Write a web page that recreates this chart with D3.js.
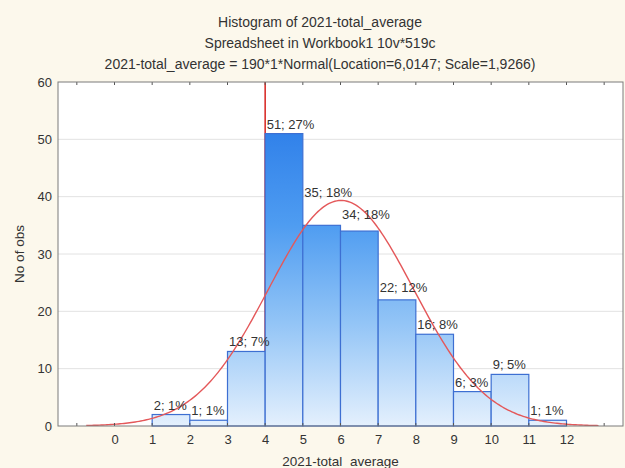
<!DOCTYPE html>
<html>
<head>
<meta charset="utf-8">
<script src="https://cdn.jsdelivr.net/npm/d3@7"></script>
<style>
  body { margin: 0; background: #fcf8ec; }
  svg { display: block; font-family: "Liberation Sans", Arial, sans-serif; }
</style>
</head>
<body>
<div id="chart"></div>
<script>
// Histogram bins (lower edges) and counts
var binStarts = [1, 2, 3, 4, 5, 6, 7, 8, 9, 10, 11];
var counts = [2, 1, 13, 51, 35, 34, 22, 16, 6, 9, 1];
var percents = ["1%", "1%", "7%", "27%", "18%", "18%", "12%", "8%", "3%", "5%", "1%"];
var xTickLabels = [0, 1, 2, 3, 4, 5, 6, 7, 8, 9, 10, 11, 12];
var yTickLabels = [0, 10, 20, 30, 40, 50, 60];

// fitted normal, from the title
var fitN = 190, fitLoc = 6.0147, fitScale = 1.9266;
var markerX = 4;

var svgWidth = 625;
var svgHeight = 468;
var margin = { top: 82, right: 2, bottom: 42, left: 58 };
var chartWidth = svgWidth - margin.left - margin.right;
var chartHeight = svgHeight - margin.top - margin.bottom;

var svg = d3.select("#chart")
    .append("svg")
    .attr("width", svgWidth)
    .attr("height", svgHeight);

svg.append("rect")
    .attr("width", svgWidth)
    .attr("height", svgHeight)
    .attr("fill", "#fcf8ec");

// Title lines
var titles = [
    "Histogram of 2021-total_average",
    "Spreadsheet in Workbook1 10v*519c",
    "2021-total_average = 190*1*Normal(Location=6,0147; Scale=1,9266)"
];
svg.selectAll("text.title")
    .data(titles)
    .enter().append("text")
    .attr("class", "title")
    .attr("x", 320)
    .attr("y", (d, i) => 27 + i * 21)
    .attr("text-anchor", "middle")
    .attr("font-size", 14)
    .attr("fill", "#333")
    .text(d => d);

var chartGroup = svg.append("g")
    .attr("transform", `translate(${margin.left}, ${margin.top})`);

var x = d3.scaleLinear()
    .domain([-1.5, 13.5])
    .range([0, chartWidth]);

var y = d3.scaleLinear()
    .domain([0, 60])
    .range([chartHeight, 0]);

var defs = svg.append("defs");
var grad = defs.append("linearGradient")
    .attr("id", "barGrad")
    .attr("gradientUnits", "userSpaceOnUse")
    .attr("x1", 0).attr("x2", 0)
    .attr("y1", y(0)).attr("y2", y(55));
grad.append("stop").attr("offset", "0%").attr("stop-color", "#e4f0fd");
grad.append("stop").attr("offset", "33%").attr("stop-color", "#92c4f6");
grad.append("stop").attr("offset", "64%").attr("stop-color", "#4e9cf1");
grad.append("stop").attr("offset", "100%").attr("stop-color", "#2a7be8");

defs.append("clipPath").attr("id", "plotClip")
    .append("rect")
    .attr("width", chartWidth)
    .attr("height", chartHeight);

// plot background
chartGroup.append("rect")
    .attr("width", chartWidth)
    .attr("height", chartHeight)
    .attr("fill", "#fff");

// horizontal grid
chartGroup.selectAll("line.grid")
    .data(yTickLabels.slice(1, -1))
    .enter().append("line")
    .attr("class", "grid")
    .attr("x1", 0)
    .attr("x2", chartWidth)
    .attr("y1", d => y(d))
    .attr("y2", d => y(d))
    .attr("stroke", "#e2e2e2")
    .attr("stroke-width", 1);

// marker line
chartGroup.append("line")
    .attr("x1", x(markerX)).attr("x2", x(markerX))
    .attr("y1", 0).attr("y2", chartHeight)
    .attr("stroke", "#d9302c")
    .attr("stroke-width", 1.6);

// bars
chartGroup.selectAll("rect.bar")
    .data(counts)
    .enter().append("rect")
    .attr("class", "bar")
    .attr("x", (d, i) => x(binStarts[i]))
    .attr("width", (d, i) => x(binStarts[i] + 1) - x(binStarts[i]))
    .attr("y", d => y(d))
    .attr("height", d => y(0) - y(d))
    .attr("fill", "url(#barGrad)")
    .attr("stroke", "#3d6fd2")
    .attr("stroke-width", 1.2);

// normal fit curve
var curveXs = d3.range(-0.75, 12.9, 0.05);
var curveData = curveXs.map(function(v) {
    var z = (v - fitLoc) / fitScale;
    return [v, fitN * Math.exp(-0.5 * z * z) / (fitScale * Math.sqrt(2 * Math.PI))];
});
chartGroup.append("path")
    .datum(curveData)
    .attr("clip-path", "url(#plotClip)")
    .attr("fill", "none")
    .attr("stroke", "#e4585a")
    .attr("stroke-width", 1.4)
    .attr("d", d3.line().x(d => x(d[0])).y(d => y(d[1])));

// bar labels (a few are lifted clear of the curve, as in the original)
var labelLift = [0, 0, 0, 0, 23, 7, 3, 0, 0, 0, 0];
chartGroup.selectAll("text.lbl")
    .data(counts)
    .enter().append("text")
    .attr("class", "lbl")
    .attr("x", (d, i) => x(binStarts[i]) + 1.5)
    .attr("y", (d, i) => y(d) - 5 - labelLift[i])
    .attr("font-size", 13)
    .attr("fill", "#333")
    .text((d, i) => d + "; " + percents[i]);

// axes: labels from the tick arrays, inward ticks at every integer
var tickVals = d3.range(-1, 14);
var bottomAxis = d3.axisBottom(x)
    .tickValues(xTickLabels)
    .tickSize(0)
    .tickPadding(9)
    .tickFormat(d3.format("d"));
var leftAxis = d3.axisLeft(y)
    .tickValues(yTickLabels)
    .tickSize(0)
    .tickPadding(6);

var gx = chartGroup.append("g")
    .attr("transform", "translate(0, " + chartHeight + ")")
    .call(bottomAxis);
var gy = chartGroup.append("g").call(leftAxis);
[gx, gy].forEach(function(g) {
    g.select(".domain").remove();
    g.selectAll("text").attr("font-size", 13).attr("fill", "#333")
        .attr("font-family", "Liberation Sans, Arial, sans-serif");
});

chartGroup.selectAll("line.tickB")
    .data(tickVals)
    .enter().append("line")
    .attr("x1", d => x(d)).attr("x2", d => x(d))
    .attr("y1", chartHeight).attr("y2", chartHeight - 3)
    .attr("stroke", "#555");
chartGroup.selectAll("line.tickT")
    .data(tickVals)
    .enter().append("line")
    .attr("x1", d => x(d)).attr("x2", d => x(d))
    .attr("y1", 0).attr("y2", 3)
    .attr("stroke", "#555");

// frame
chartGroup.append("rect")
    .attr("width", chartWidth)
    .attr("height", chartHeight)
    .attr("fill", "none")
    .attr("stroke", "#7a7a7a")
    .attr("stroke-width", 1);

// axis titles
svg.append("text")
    .attr("x", margin.left + chartWidth / 2)
    .attr("y", 466)
    .attr("text-anchor", "middle")
    .attr("font-size", 13.5)
    .attr("fill", "#333")
    .text("2021-total_average");

svg.append("text")
    .attr("transform", "translate(24, " + (margin.top + chartHeight / 2) + ") rotate(-90)")
    .attr("text-anchor", "middle")
    .attr("font-size", 13.5)
    .attr("fill", "#333")
    .text("No of obs");
</script>
</body>
</html>
